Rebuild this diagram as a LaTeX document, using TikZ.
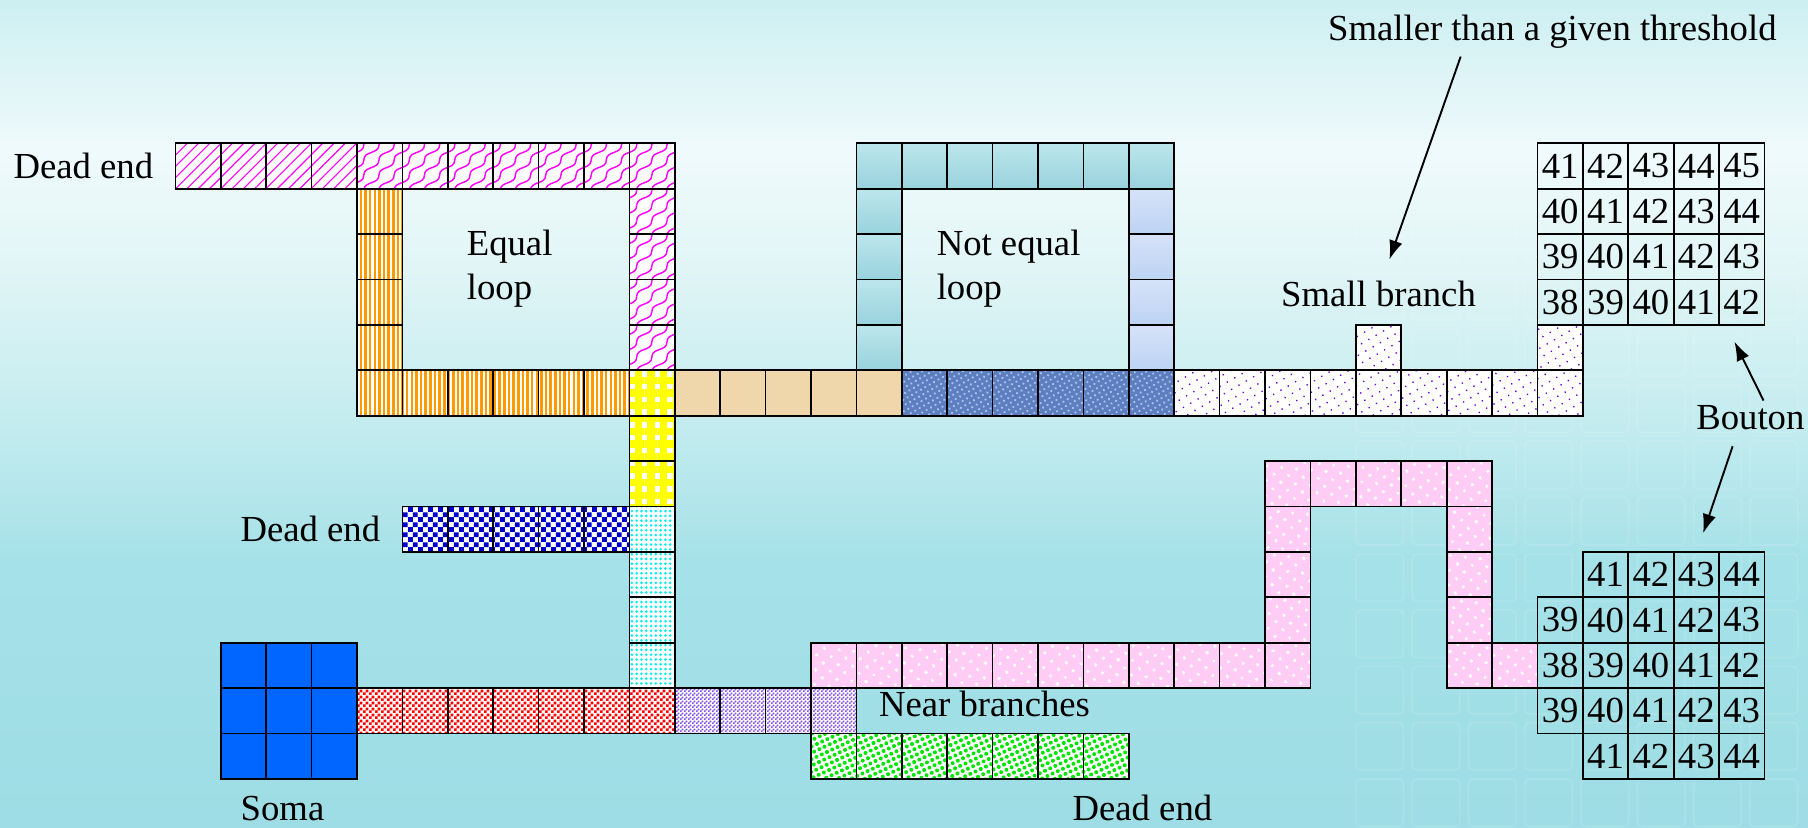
\documentclass[tikz,border=0pt]{standalone}
\usepackage{fontspec}
\setmainfont{Liberation Serif}
\usetikzlibrary{positioning,patterns,patterns.meta,arrows.meta}

\definecolor{skytop}{HTML}{CDEFF2}
\definecolor{skypale}{HTML}{EFFAFB}
\definecolor{skyhigh}{HTML}{E4F6F7}
\definecolor{skymid}{HTML}{C4ECEF}
\definecolor{skylow}{HTML}{A5E1E8}
\definecolor{skybot}{HTML}{9EDDE5}
\definecolor{orangebar}{HTML}{FF9900}
\definecolor{tanbox}{HTML}{F0D6AB}
\definecolor{bluetexbg}{HTML}{5D7FC0}
\definecolor{bluetexfg}{HTML}{A9C2EE}
\definecolor{violetdot}{HTML}{7000E0}
\definecolor{waterhi}{HTML}{BDE6EC}
\definecolor{waterlo}{HTML}{98D2DD}
\definecolor{lavhi}{HTML}{D6E2F8}
\definecolor{lavlo}{HTML}{BCD3F3}
\definecolor{checkblue}{HTML}{0000CC}
\definecolor{cyandot}{HTML}{00EEF2}
\definecolor{violetchk}{HTML}{8450E6}
\definecolor{pinkbox}{HTML}{FFCCF6}
\definecolor{greendot}{HTML}{00E600}
\definecolor{somablue}{HTML}{0066FF}

% background of the slide
\pgfdeclareverticalshading{skyfade}{100bp}{color(0bp)=(skybot); color(25bp)=(skybot);
  color(41bp)=(skylow); color(49.6bp)=(skymid); color(59.9bp)=(skyhigh);
  color(65.9bp)=(skypale); color(75bp)=(skytop); color(100bp)=(skytop)}

% fills of the segments
\pgfdeclarepatternformonly{fishscale}{\pgfpoint{-1pt}{-1pt}}{\pgfpoint{10.5pt}{10.5pt}}{\pgfpoint{9.5pt}{9.5pt}}{
  \pgfsetlinewidth{0.9pt}
  \pgfpathmoveto{\pgfpoint{0pt}{0pt}}
  \pgfpathcurveto{\pgfpoint{0pt}{6pt}}{\pgfpoint{9.5pt}{3.5pt}}{\pgfpoint{9.5pt}{9.5pt}}
  \pgfusepath{stroke}}
\pgfdeclarepatternformonly{chequerbig}{\pgfpointorigin}{\pgfpoint{6.4pt}{6.4pt}}{\pgfpoint{6.4pt}{6.4pt}}{
  \pgfpathrectangle{\pgfpointorigin}{\pgfpoint{3.2pt}{3.2pt}}
  \pgfpathrectangle{\pgfpoint{3.2pt}{3.2pt}}{\pgfpoint{3.2pt}{3.2pt}}
  \pgfusepath{fill}}
\pgfdeclarepatternformonly{chequermid}{\pgfpointorigin}{\pgfpoint{3.8pt}{3.8pt}}{\pgfpoint{3.8pt}{3.8pt}}{
  \pgfpathrectangle{\pgfpointorigin}{\pgfpoint{1.9pt}{1.9pt}}
  \pgfpathrectangle{\pgfpoint{1.9pt}{1.9pt}}{\pgfpoint{1.9pt}{1.9pt}}
  \pgfusepath{fill}}
\pgfdeclarepatternformonly{chequersmall}{\pgfpointorigin}{\pgfpoint{2.6pt}{2.6pt}}{\pgfpoint{2.6pt}{2.6pt}}{
  \pgfpathrectangle{\pgfpointorigin}{\pgfpoint{1.3pt}{1.3pt}}
  \pgfpathrectangle{\pgfpoint{1.3pt}{1.3pt}}{\pgfpoint{1.3pt}{1.3pt}}
  \pgfusepath{fill}}

\newcommand{\lblfont}{\fontsize{23}{28}\selectfont}

\begin{document}
\begin{tikzpicture}[>={Latex[length=12pt,width=8.5pt]},
    pix/.style={draw=black,line width=1.1pt,minimum size=1cm,inner sep=0pt,outer sep=0pt},
    numpix/.style={pix,font=\lblfont},
    lbl/.style={font=\lblfont,inner sep=0pt,outer sep=0pt},
    pinkdiag/.style={preaction={fill=white},pattern={Lines[angle=45,distance=5pt,line width=0.7pt]},pattern color=magenta},
    pinkwave/.style={preaction={fill=white},pattern=fishscale,pattern color=magenta},
    orangestripe/.style={preaction={fill=white},pattern={Lines[angle=90,distance=2.9pt,line width=1.6pt]},pattern color=orangebar},
    yellowcheck/.style={preaction={fill=white},
      preaction={pattern={Lines[angle=90,distance=8pt,line width=4.5pt]},pattern color=yellow},
      pattern={Lines[angle=0,distance=8pt,line width=4.5pt]},pattern color=yellow},
    tanfill/.style={fill=tanbox},
    bluetex/.style={preaction={fill=bluetexbg},pattern={Dots[radius=0.8pt,distance=3.2pt,angle=30]},pattern color=bluetexfg},
    violetdots/.style={preaction={fill=white},pattern={Dots[radius=0.6pt,distance=5.3pt,angle=30]},pattern color=violetdot},
    waterfill/.style={top color=waterhi,bottom color=waterlo},
    lavfill/.style={top color=lavhi,bottom color=lavlo},
    bluechecker/.style={preaction={fill=white},pattern=chequerbig,pattern color=checkblue},
    cyandots/.style={preaction={fill=white},pattern={Dots[radius=0.9pt,distance=3pt]},pattern color=cyandot},
    redcheck/.style={preaction={fill=white},pattern=chequermid,pattern color=red},
    violetcheck/.style={preaction={fill=white},pattern=chequersmall,pattern color=violetchk},
    pinkfill/.style={preaction={fill=pinkbox},pattern={Dots[radius=1pt,distance=6.5pt,angle=40]},pattern color=white},
    greendots/.style={preaction={fill=white},pattern={Dots[radius=1.25pt,distance=3.6pt,angle=25]},pattern color=greendot},
    somafill/.style={fill=somablue}]

  \useasboundingbox (-3.863,3.156) rectangle (35.96,-15.06);
  \shade[shading=skyfade] (-3.863,3.156) rectangle (35.96,-15.06);
  % faint squares of the template
  \foreach \x in {26,27.24,...,35.5}
    \foreach \y in {-1.6,-2.84,...,-15}
      \draw[white,opacity=0.1,line width=1.2pt,rounded corners=3pt] (\x,\y) rectangle ++(1.05,-1.05);

  % top row and equal loop
  \foreach \i in {0,...,3} \node[pix,pinkdiag] (c-\i-0) at (\i+0.5,-0.5) {};
  \foreach \i in {4,...,10} \node[pix,pinkwave] (c-\i-0) at (\i+0.5,-0.5) {};
  \foreach \j in {1,...,4} {
    \node[pix,orangestripe] (c-4-\j) at (4.5,-\j-0.5) {};
    \node[pix,pinkwave] (c-10-\j) at (10.5,-\j-0.5) {};
  }
  % not equal loop
  \foreach \i in {15,...,21} \node[pix,waterfill] (c-\i-0) at (\i+0.5,-0.5) {};
  \foreach \j in {1,...,4} {
    \node[pix,waterfill] (c-15-\j) at (15.5,-\j-0.5) {};
    \node[pix,lavfill] (c-21-\j) at (21.5,-\j-0.5) {};
  }
  % long horizontal branch
  \foreach \i in {4,...,9} \node[pix,orangestripe] (c-\i-5) at (\i+0.5,-5.5) {};
  \foreach \i in {11,...,15} \node[pix,tanfill] (c-\i-5) at (\i+0.5,-5.5) {};
  \foreach \i in {16,...,21} \node[pix,bluetex] (c-\i-5) at (\i+0.5,-5.5) {};
  \foreach \i in {22,...,30} \node[pix,violetdots] (c-\i-5) at (\i+0.5,-5.5) {};
  \node[pix,violetdots] (c-26-4) at (26.5,-4.5) {};
  \node[pix,violetdots] (c-30-4) at (30.5,-4.5) {};

  % trunk down to the soma
  \foreach \j in {5,6,7} \node[pix,yellowcheck] (c-10-\j) at (10.5,-\j-0.5) {};
  \foreach \j in {8,...,11} \node[pix,cyandots] (c-10-\j) at (10.5,-\j-0.5) {};
  \foreach \i in {5,...,9} \node[pix,bluechecker] (c-\i-8) at (\i+0.5,-8.5) {};
  \foreach \i in {4,...,10} \node[pix,redcheck] (c-\i-12) at (\i+0.5,-12.5) {};
  \foreach \i in {11,...,14} \node[pix,violetcheck] (c-\i-12) at (\i+0.5,-12.5) {};
  \foreach \i in {1,2,3}
    \foreach \j in {11,12,13}
      \node[pix,somafill] (c-\i-\j) at (\i+0.5,-\j-0.5) {};

  % lower branch to the second bouton
  \foreach \i in {14,...,24} \node[pix,pinkfill] (c-\i-11) at (\i+0.5,-11.5) {};
  \foreach \i in {24,...,28} \node[pix,pinkfill] (c-\i-7) at (\i+0.5,-7.5) {};
  \foreach \j in {8,9,10} \node[pix,pinkfill] (c-24-\j) at (24.5,-\j-0.5) {};
  \foreach \j in {8,...,11} \node[pix,pinkfill] (c-28-\j) at (28.5,-\j-0.5) {};
  \node[pix,pinkfill] (c-29-11) at (29.5,-11.5) {};
  \foreach \i in {14,...,20} \node[pix,greendots] (c-\i-13) at (\i+0.5,-13.5) {};

  % boutons with their distances
  \foreach \r in {0,...,3}
    \foreach \k in {30,...,34} {
      \pgfmathtruncatemacro\dist{41+\k-30-\r}
      \node[numpix] (c-\k-\r) at (\k+0.5,-\r-0.5) {\dist};
    }
  \foreach \r/\first in {9/31,10/30,11/30,12/30,13/31}
    \foreach \k in {\first,...,34} {
      \pgfmathtruncatemacro\dist{38+\k-30+abs(\r-11)}
      \node[numpix] (c-\k-\r) at (\k+0.5,-\r-0.5) {\dist};
    }

  % labels
  \node[lbl,left=0.49 of c-0-0] (deadtop) {Dead end};
  \node[lbl,left=0.49 of c-5-8] (deadmid) {Dead end};
  \node[lbl,below=0.39 of c-2-13,xshift=-0.14cm] (soma) {Soma};
  \node[lbl,right=0.5 of c-14-12,yshift=0.15cm] (near) {Near branches};
  \node[lbl,below=0.345 of c-20-13,xshift=0.8cm] (deadlow) {Dead end};
  \node[lbl,align=left,anchor=north west] (eqloop) at (6.42,-1.9) {Equal\\loop};
  \node[lbl,align=left,anchor=north west] (neqloop) at (16.77,-1.9) {Not equal\\loop};
  \node[lbl,above=0.4 of c-26-4] (smallbr) {Small branch};
  \node[lbl,anchor=base west] (thresh) at (25.39,2.26) {Smaller than a given threshold};
  \node[lbl,anchor=base] (bouton) at (34.69,-6.315) {Bouton};

  % arrows
  \draw[->,line width=1.2pt] ([xshift=2.92cm,yshift=-0.35cm]thresh.base west)
    -- ([xshift=0.24cm,yshift=0.47cm]smallbr.north);
  \draw[->,line width=1.2pt] ([xshift=0.29cm,yshift=0.12cm]bouton.north)
    -- ([xshift=-0.16cm,yshift=-0.37cm]c-34-3.south);
  \draw[->,line width=1.2pt] ([xshift=-0.39cm,yshift=-0.35cm]bouton.south)
    -- ([xshift=0.15cm,yshift=0.41cm]c-33-9.north);
\end{tikzpicture}
\end{document}
